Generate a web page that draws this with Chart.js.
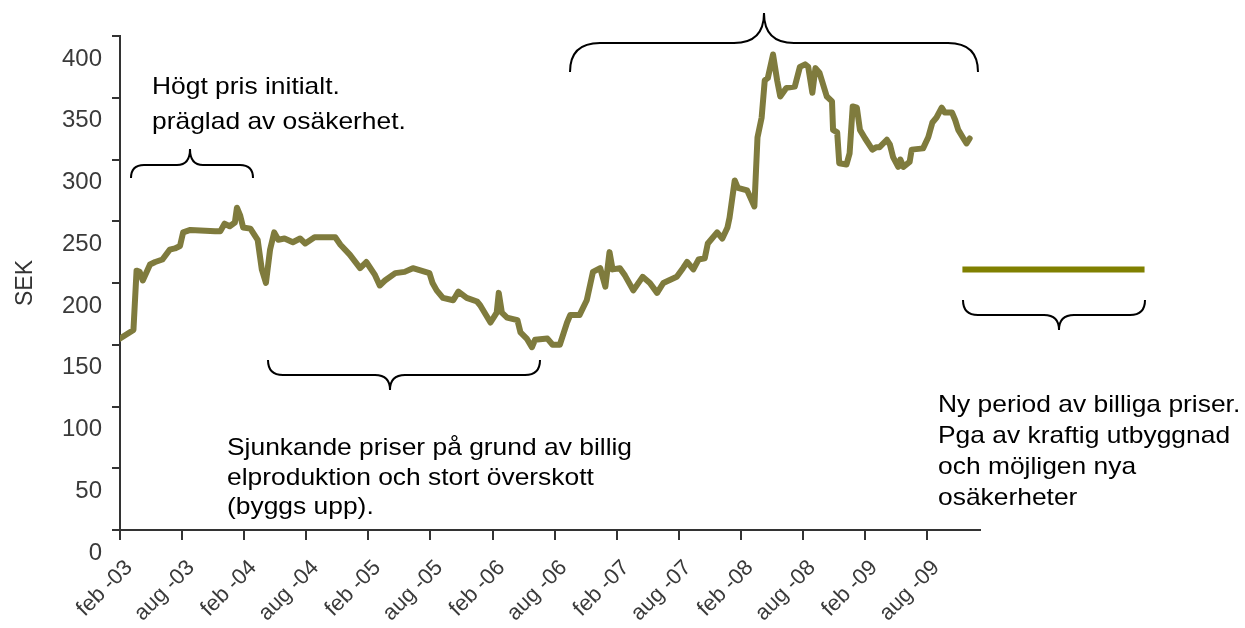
<!DOCTYPE html>
<html>
<head>
<meta charset="utf-8">
<script src="https://cdn.jsdelivr.net/npm/chart.js@4.4.0/dist/chart.umd.min.js"></script>
<style>
  html, body { margin: 0; padding: 0; background: #fff; }
  #wrap { width: 1245px; height: 628px; }
</style>
</head>
<body>
<div id="wrap"><canvas id="myChart" width="1245" height="628"></canvas></div>
<script>
// months counted from feb -03
var months = [0, 1.3, 1.6, 1.9, 2.2, 2.9, 3.4, 4.1, 4.8, 5.3, 5.8, 6.1, 6.8, 9.2, 9.7, 10.1, 10.6, 11.1, 11.3, 11.6,
  11.9, 12.6, 13.3, 13.7, 14.1, 14.5, 14.9, 15.3, 15.9, 16.7, 17.4, 17.9, 18.8, 20.8, 21.3, 22.2, 23.2, 23.8, 24.6, 25.1,
  25.6, 26.6, 27.5, 28.3, 29.9, 30.2, 30.6, 31.2, 32.2, 32.7, 33.5, 34.5, 34.8, 35.8, 36.4, 36.6, 36.9, 37.4, 38.4, 38.7,
  39.3, 39.8, 40.1, 41.3, 41.8, 42.5, 43.2, 43.5, 44.4, 45.1, 45.7, 46.4, 46.9, 47.3, 47.6, 48.3, 48.8, 49.6, 50.5, 51.2,
  51.9, 52.5, 53.8, 54.4, 54.8, 55.4, 55.9, 56.5, 56.8, 57.7, 58.2, 58.7, 58.9, 59.4, 59.7, 60.6, 61.3, 61.6, 62.0, 62.3,
  62.6, 63.1, 63.5, 63.8, 64.4, 65.2, 65.7, 66.2, 66.5, 66.9, 67.2, 67.6, 68.3, 68.8, 68.9, 69.3, 69.5, 70.2, 70.5, 70.8,
  71.2, 71.5, 72.0, 72.7, 73.1, 73.4, 74.1, 74.4, 74.7, 75.2, 75.4, 75.7, 76.3, 76.5, 77.6, 78.1, 78.5, 78.9, 79.4, 79.7,
  80.0, 80.4, 80.7, 81.0, 81.5, 81.8, 82.1];
var prices = [155, 162, 210, 209, 202, 215, 217, 219, 227, 228, 230, 241, 243, 242, 242, 248, 246, 249, 261, 255,
  245, 244, 235, 211, 200, 227, 241, 235, 236, 233, 236, 232, 237, 237, 231, 223, 212, 217, 207, 198,
  202, 208, 209, 212, 208, 200, 194, 188, 186, 193, 188, 185, 182, 168, 176, 192, 176, 172, 170, 160,
  155, 148, 154, 155, 150, 150, 168, 174, 174, 186, 209, 212, 197, 225, 211, 212, 206, 194, 205, 200,
  192, 200, 205, 212, 217, 211, 219, 220, 232, 241, 236, 245, 253, 283, 277, 275, 262, 318, 334, 364,
  366, 385, 364, 351, 358, 359, 375, 377, 375, 354, 374, 370, 351, 347, 324, 322, 297, 296, 305, 343,
  342, 324, 317, 308, 310, 310, 316, 312, 302, 294, 300, 294, 298, 308, 309, 318, 330, 334, 342, 338,
  338, 338, 332, 324, 317, 313, 317];

// the flat "new period" level drawn to the right of the plot
var newPeriodMonths = [81.4, 99.0];
var newPeriodPrices = [211, 211];

var tickMonths = [0, 6, 12, 18, 24, 30, 36, 42, 48, 54, 60, 66, 72, 78];
var tickLabels = ["feb -03", "aug -03", "feb -04", "aug -04", "feb -05", "aug -05", "feb -06",
  "aug -06", "feb -07", "aug -07", "feb -08", "aug -08", "feb -09", "aug -09"];

var notes = [
  { x: 152, y: 94, lines: ["Högt pris initialt.", "präglad av osäkerhet."], step: 35 },
  { x: 227, y: 455, lines: ["Sjunkande priser på grund av billig", "elproduktion och stort överskott", "(byggs upp)."], step: 29.5 },
  { x: 938, y: 412, lines: ["Ny period av billiga priser.", "Pga av kraftig utbyggnad", "och möjligen nya", "osäkerheter"], step: 31 }
];
// x1, x2, tip x, y of ends, y of flat part, y of tip, curl
var braces = [
  [131, 253, 190, 178, 165, 149, 13],
  [570, 978, 764, 72, 43, 13, 30],
  [268, 540, 390, 360, 375, 390, 15],
  [963, 1145, 1059, 300, 315, 330, 15]
];

var notesPlugin = {
  id: "notes",
  afterDraw: function (chart) {
    var c = chart.ctx;
    c.save();
    c.strokeStyle = "#000";
    c.lineWidth = 2;
    braces.forEach(function (b) {
      var x1 = b[0], x2 = b[1], xt = b[2], ye = b[3], ym = b[4], yt = b[5], r = b[6];
      c.beginPath();
      c.moveTo(x1, ye);
      c.quadraticCurveTo(x1, ym, x1 + r, ym);
      c.lineTo(xt - r, ym);
      c.quadraticCurveTo(xt, ym, xt, yt);
      c.quadraticCurveTo(xt, ym, xt + r, ym);
      c.lineTo(x2 - r, ym);
      c.quadraticCurveTo(x2, ym, x2, ye);
      c.stroke();
    });
    c.fillStyle = "#000";
    c.font = "24px 'Liberation Sans', Arial, sans-serif";
    c.textAlign = "left";
    c.textBaseline = "alphabetic";
    notes.forEach(function (n) {
      n.lines.forEach(function (t, i) {
        c.save();
        c.translate(n.x, n.y + i * n.step);
        c.scale(1.1, 1);
        c.fillText(t, 0, 0);
        c.restore();
      });
    });
    c.restore();
  }
};

var ctx = document.getElementById("myChart");
var myChart = new Chart(ctx, {
  type: "line",
  data: {
    datasets: [
      {
        label: "SEK",
        data: months.map(function (m, i) { return { x: m, y: prices[i] }; }),
        borderColor: "#7f7b3d",
        borderWidth: 6,
        lineTension: 0,
        borderJoinStyle: "round",
        borderCapStyle: "round",
        pointRadius: 0,
      },
      {
        label: "Ny period",
        data: newPeriodMonths.map(function (m, i) { return { x: m, y: newPeriodPrices[i] }; }),
        borderColor: "#808000",
        borderWidth: 6,
        lineTension: 0,
        pointRadius: 0,
        clip: false,
      },
    ],
  },
  options: {
    responsive: false,
    animation: false,
    devicePixelRatio: 1,
    layout: { padding: { left: 0, right: 265, top: 36, bottom: 0 } },
    scales: {
      x: {
        type: "linear",
        min: 0,
        max: 83.1,
        afterBuildTicks: function (scale) {
          scale.ticks = tickMonths.map(function (v) { return { value: v }; });
        },
        afterFit: function (scale) { scale.height = 98; },
        ticks: {
          autoSkip: false,
          minRotation: 45,
          maxRotation: 45,
          padding: 15,
          labelOffset: 9,
          color: "#3a3a3a",
          font: { family: "'Liberation Sans', Arial, sans-serif", size: 22 },
          callback: function (value, index) { return tickLabels[index]; },
        },
        grid: { drawOnChartArea: false, tickLength: 10, color: "#333", lineWidth: 2 },
        border: { color: "#333", width: 2 },
      },
      y: {
        min: 0,
        max: 400,
        afterFit: function (scale) { scale.width = 120; },
        ticks: {
          stepSize: 50,
          padding: 10,
          labelOffset: 23,
          color: "#3a3a3a",
          font: { family: "'Liberation Sans', Arial, sans-serif", size: 24 },
        },
        grid: { drawOnChartArea: false, tickLength: 8, color: "#333", lineWidth: 2 },
        border: { color: "#333", width: 2 },
        title: {
          display: true,
          text: "SEK",
          color: "#333",
          padding: { top: 12, bottom: 0 },
          font: { family: "'Liberation Sans', Arial, sans-serif", size: 23 },
        },
      },
    },
    plugins: {
      legend: { display: false },
      tooltip: { enabled: false },
    },
  },
  plugins: [notesPlugin],
});
</script>
</body>
</html>
